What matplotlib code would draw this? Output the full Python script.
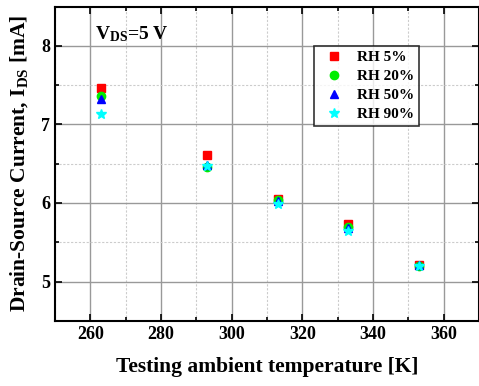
import numpy as np
import matplotlib.pyplot as plt
from matplotlib.ticker import MultipleLocator

# measured drain-source current vs ambient temperature
temperature = [263, 293, 313, 333, 353]
rh_labels = ['RH 5%', 'RH 20%', 'RH 50%', 'RH 90%']
ids_rh5 = [7.47, 6.61, 6.05, 5.73, 5.21]
ids_rh20 = [7.36, 6.46, 6.04, 5.70, 5.20]
ids_rh50 = [7.32, 6.48, 6.03, 5.68, 5.21]
ids_rh90 = [7.13, 6.47, 5.99, 5.64, 5.20]

plt.rcParams.update({'font.family': 'Liberation Serif', 'font.weight': 'bold',
                     'mathtext.fontset': 'custom',
                     'mathtext.rm': 'Liberation Serif:bold',
                     'mathtext.bf': 'Liberation Serif:bold',
                     'mathtext.it': 'Liberation Serif:bold'})

fig = plt.figure(figsize=(4.79, 3.86), dpi=100)
ax = fig.add_axes([0.1148, 0.169, 0.8852, 0.8136])

series = [(ids_rh5, 's', 'red'), (ids_rh20, 'o', '#00ee00'),
          (ids_rh50, '^', 'blue'), (ids_rh90, '*', 'cyan')]
for (vals, mk, col), lab in zip(series, rh_labels):
    ax.plot(temperature, vals, linestyle='none', marker=mk, color=col,
            markersize=7.5 if mk == '*' else 6, label=lab)

ax.set_xlim(250, 370)
ax.set_ylim(4.5, 8.5)
ax.xaxis.set_major_locator(MultipleLocator(20))
ax.xaxis.set_minor_locator(MultipleLocator(10))
ax.yaxis.set_major_locator(MultipleLocator(1))
ax.yaxis.set_minor_locator(MultipleLocator(0.5))

ax.grid(True, which='major', color='#999999', linestyle='-', linewidth=1)
ax.grid(True, which='minor', color='#cccccc', linestyle=(0, (2, 1.5)), linewidth=0.8)
ax.set_axisbelow(True)

ax.tick_params(which='both', direction='in', top=True, right=True,
               labelsize=13, width=1.2)
ax.tick_params(which='major', length=5)
ax.tick_params(which='minor', length=3)
for sp in ax.spines.values():
    sp.set_linewidth(1.5)

ax.set_xlabel('Testing ambient temperature [K]', fontsize=15.5, fontweight='bold',
              labelpad=10)
ax.set_ylabel(r'Drain-Source Current, I$_{\mathbf{DS}}$ [mA]', fontsize=15.5,
              fontweight='bold', labelpad=8)

ax.text(0.095, 0.895, r'V$_{\mathbf{DS}}$=5 V', transform=ax.transAxes,
        fontsize=14, fontweight='bold')

leg = ax.legend(loc='upper left', bbox_to_anchor=(0.611, 0.876), fontsize=11,
                frameon=True, fancybox=False, handletextpad=0.5,
                borderpad=0.3, labelspacing=0.35, handlelength=2.0,
                borderaxespad=0)
leg.get_frame().set_edgecolor('black')
leg.get_frame().set_linewidth(1.2)

fig.savefig('out.png', dpi=100)
